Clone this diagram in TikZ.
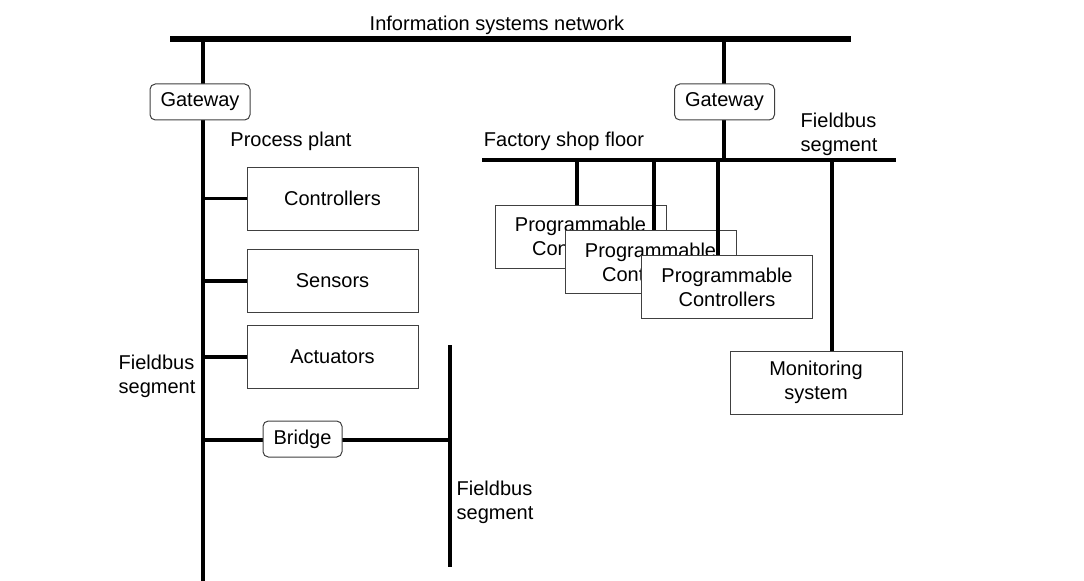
\documentclass[tikz,border=0pt]{standalone}
\usepackage{fontspec}
\setmainfont{Liberation Sans}
\usetikzlibrary{positioning}

\tikzset{unit/.style={draw=black!75, line width=0.75pt, fill=white, inner sep=0pt, minimum width=128.25pt, minimum height=47.25pt, align=center}}
\tikzset{link/.style={draw=black!75, line width=0.75pt, fill=white, rounded corners=4pt, inner sep=0pt, minimum height=27pt}}

\begin{document}
\begin{tikzpicture}[x=0.75pt, y=-0.75pt, font=\fontsize{15}{18}\selectfont, every node/.style={text=black}]
			\useasboundingbox (0,0) rectangle (1084,581);
			
			\coordinate (busA) at (170,39);
			\coordinate (busB) at (851,39);
			\coordinate (shopA) at (482,160);
			\coordinate (shopB) at (896,160);
			\coordinate (segTop) at (203,39);
			\coordinate (segEnd) at (203,581);
			\coordinate (lowTop) at (450,345);
			\coordinate (lowEnd) at (450,567);
			\coordinate (brL) at (203,440);
			\coordinate (gwTop) at (724,39);
			\coordinate (d1) at (577,160);
			\coordinate (d2) at (654,160);
			\coordinate (d3) at (718,160);
			\coordinate (d4) at (832,160);
			
			\draw[line width=4.5pt] (busA) -- (busB);
			\draw[line width=2.6pt] (shopA) -- (shopB);
			\draw[line width=2.6pt] (segTop) -- (segEnd);
			\draw[line width=2.6pt] (lowTop) -- (lowEnd);
			\draw[line width=2.6pt] (gwTop) -- (gwTop |- shopA);
			\draw[line width=2.6pt] (brL) -- (brL -| lowTop);
			
			\node at (497,25) (info) {Information systems network};
			\node at (291,141) (plant) {Process plant};
			\node at (564,141) (shop) {Factory shop floor};
			\node[anchor=west, align=left] at (796,134) (fbR) {Fieldbus\\segment};
			\node[anchor=west, align=left] at (114,376) (fbL) {Fieldbus\\segment};
			\node[anchor=west, align=left] at (452,502) (fbB) {Fieldbus\\segment};
			
			\node[link, minimum width=75pt] at (200,102) (gwL) {Gateway};
			\node[link, minimum width=75pt] at (724.5,102) (gwR) {Gateway};
			\node[link, minimum width=59.25pt] at (302.5,439) (bridge) {Bridge};
			
			\node[unit] at (332.5,198.5) (ctrl) {Controllers};
			\node[unit] at (332.5,281) (sens) {Sensors};
			\node[unit] at (332.5,357) (act) {Actuators};
			
			\node[unit] at (580.5,236.5) (pc1) {Programmable\\Controllers};
			\node[unit] at (650.5,262) (pc2) {Programmable\\Controllers};
			\node[unit] at (727,287) (pc3) {Programmable\\Controllers};
			\node[unit, minimum width=129pt] at (816,382.5) (mon) {Monitoring\\system};
			
			\draw[line width=2.6pt] (ctrl.west) -- (ctrl.west -| segTop);
			\draw[line width=2.6pt] (sens.west) -- (sens.west -| segTop);
			\draw[line width=2.6pt] (act.west) -- (act.west -| segTop);
			
			\draw[line width=2.6pt] (d1) -- (d1 |- pc1.north);
			\draw[line width=2.6pt] (d2) -- (d2 |- pc2.north);
			\draw[line width=2.6pt] (d3) -- (d3 |- pc3.north);
			\draw[line width=2.6pt] (d4) -- (d4 |- mon.north);
			
		\end{tikzpicture}
\end{document}
